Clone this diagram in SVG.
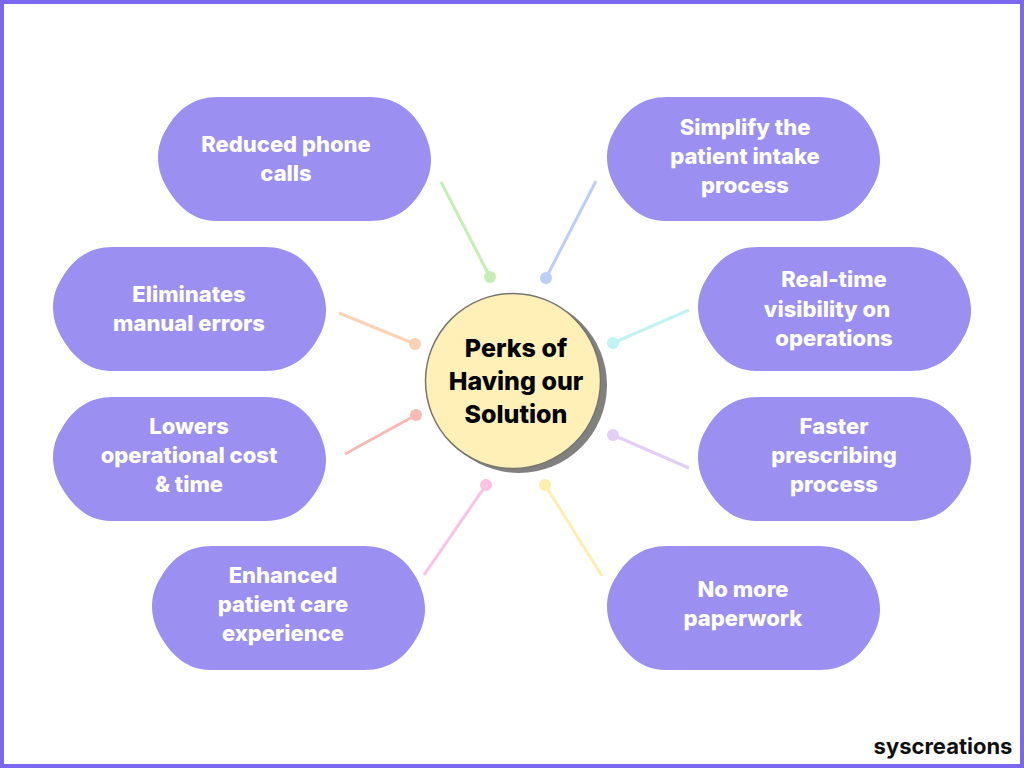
<svg xmlns="http://www.w3.org/2000/svg" xmlns:xlink="http://www.w3.org/1999/xlink" width="1024" height="768" viewBox="0 0 1024 768">
<style>
.b{fill:#9b8ff2}
.t{font-family:"Inter","Liberation Sans",sans-serif;font-weight:800;font-size:22px;fill:#fff;text-anchor:middle}
.c{font-family:"Inter","Liberation Sans",sans-serif;font-weight:800;font-size:25px;fill:#000;text-anchor:middle}
.l{stroke-width:3;fill:none}
</style>
<defs>
<path id="pill" d="M60 0H212C238 0 255 14 265 33C270 43 273 53 273 63C273 73 270 83 265 91C254 111 238 124 212 124H58C36 124 20 110 9 91C3 81 0 71 0 60C0 50 3 40 9 31C20 12 36 0 60 0Z"/>
</defs>
<rect x="2" y="2" width="1020" height="764" fill="#fff" stroke="#7b68ee" stroke-width="4"/>
<g id="connectors">
<path class="l" stroke="#c5eeb5" d="M441 182L490 277"/><circle cx="490" cy="277" r="6" fill="#c5eeb5"/>
<path class="l" stroke="#bccdf8" d="M596 181L546 278"/><circle cx="546" cy="278" r="6" fill="#bccdf8"/>
<path class="l" stroke="#fbd2b4" d="M339 313L415 344"/><circle cx="415" cy="344" r="6" fill="#fbd2b4"/>
<path class="l" stroke="#c0f3f3" d="M689 310L613 343"/><circle cx="613" cy="343" r="6" fill="#c0f3f3"/>
<path class="l" stroke="#f9b9b5" d="M345 454L416 415"/><circle cx="416" cy="415" r="6" fill="#f9b9b5"/>
<path class="l" stroke="#e4cdf6" d="M689 468L613 435"/><circle cx="613" cy="435" r="6" fill="#e4cdf6"/>
<path class="l" stroke="#fbc2e4" d="M424 575L486 485"/><circle cx="486" cy="485" r="6" fill="#fbc2e4"/>
<path class="l" stroke="#fdeeae" d="M602 576L545 485"/><circle cx="545" cy="485" r="6" fill="#fdeeae"/>
</g>
<g id="center">
<circle cx="519" cy="385" r="88" fill="#808080"/>
<circle cx="513" cy="381" r="87.5" fill="#fff0b8" stroke="#77756c" stroke-width="1.5"/>
<text class="c"><tspan x="516" y="357">Perks of</tspan><tspan x="516" y="390">Having our</tspan><tspan x="516" y="423">Solution</tspan></text>
</g>
<g id="n1"><use href="#pill" class="b" x="158" y="97"/><text class="t"><tspan x="286" y="152">Reduced phone</tspan><tspan x="286" y="181">calls</tspan></text></g>
<g id="n2"><use href="#pill" class="b" x="607" y="97"/><text class="t"><tspan x="745" y="135">Simplify the</tspan><tspan x="745" y="164">patient intake</tspan><tspan x="745" y="193">process</tspan></text></g>
<g id="n3"><use href="#pill" class="b" x="53" y="247"/><text class="t"><tspan x="189" y="302">Eliminates</tspan><tspan x="189" y="331">manual errors</tspan></text></g>
<g id="n4"><use href="#pill" class="b" x="698" y="247"/><text class="t"><tspan x="834" y="287">Real-time</tspan><tspan x="827" y="317">visibility on</tspan><tspan x="834" y="346">operations</tspan></text></g>
<g id="n5"><use href="#pill" class="b" x="53" y="397"/><text class="t"><tspan x="189" y="434">Lowers</tspan><tspan x="189" y="463">operational cost</tspan><tspan x="189" y="492">&amp; time</tspan></text></g>
<g id="n6"><use href="#pill" class="b" x="698" y="397"/><text class="t"><tspan x="834" y="434">Faster</tspan><tspan x="834" y="463">prescribing</tspan><tspan x="834" y="492">process</tspan></text></g>
<g id="n7"><use href="#pill" class="b" x="152" y="546"/><text class="t"><tspan x="283" y="583">Enhanced</tspan><tspan x="283" y="612">patient care</tspan><tspan x="283" y="641">experience</tspan></text></g>
<g id="n8"><use href="#pill" class="b" x="607" y="546"/><text class="t"><tspan x="743" y="597">No more</tspan><tspan x="743" y="626">paperwork</tspan></text></g>
<text id="logo" x="943" y="754" font-family="Inter,'Liberation Sans',sans-serif" font-weight="700" font-size="22" fill="#111" text-anchor="middle">syscreations</text>
</svg>
